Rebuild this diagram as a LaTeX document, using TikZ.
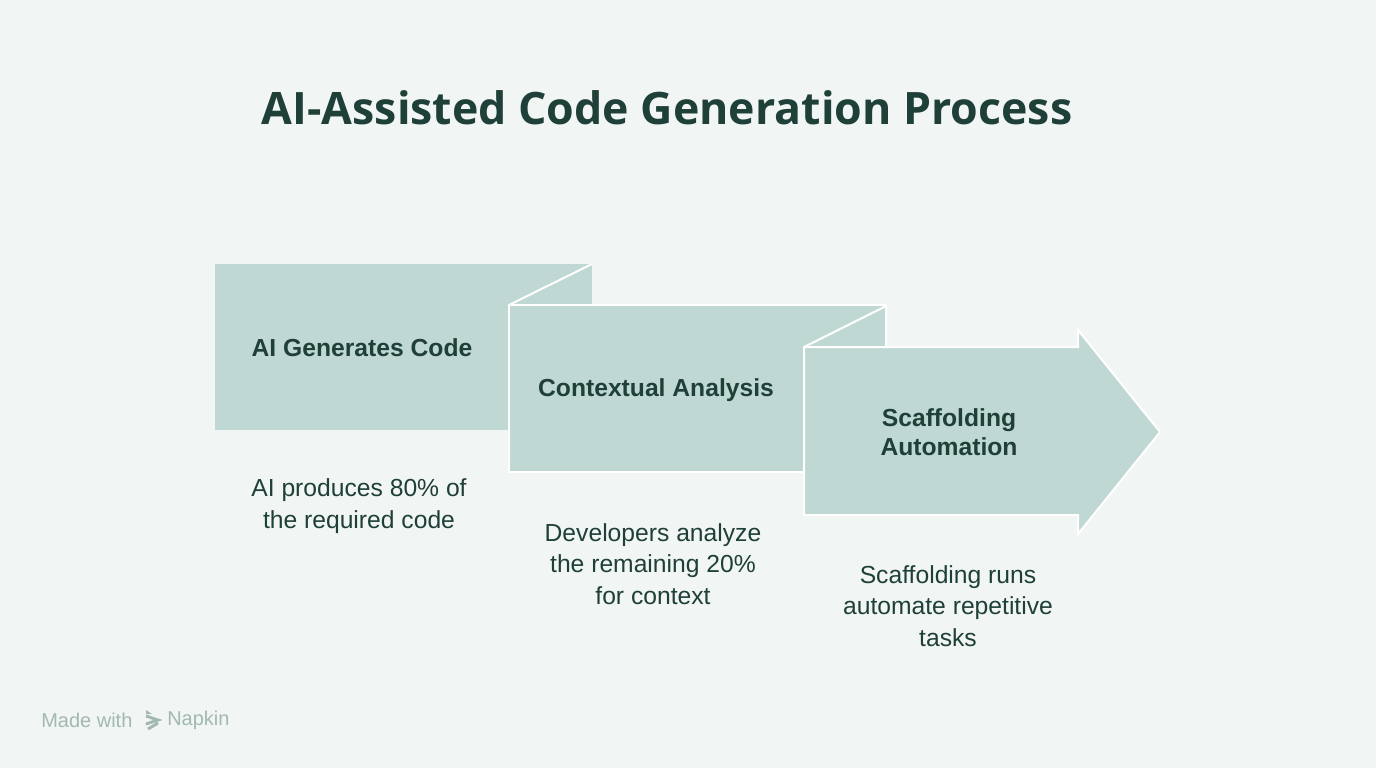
\documentclass[tikz,border=0pt]{standalone}
\usepackage{fontspec}
\setmainfont{Liberation Sans}
\newfontfamily\titlefont{Open Sans}
\begin{document}
\begin{tikzpicture}[x=0.75pt,y=-0.75pt,
  box/.style={fill=boxc,draw=white,line width=1.5pt},
  fold/.style={draw=white,line width=1.5pt},
  lbl/.style={text=txt,font=\fontsize{18.5}{22}\selectfont\bfseries,align=center},
  desc/.style={text=txt,font=\fontsize{18.5}{23.5}\selectfont,align=center}]
\definecolor{bg}{HTML}{F1F6F4}
\definecolor{boxc}{HTML}{C0D8D3}
\definecolor{txt}{HTML}{1F4038}
\definecolor{gr}{HTML}{A3B8B2}
\fill[bg] (0,0) rectangle (1376,768);
\useasboundingbox (0,0) rectangle (1376,768);
\node[text=txt,font=\titlefont\fontsize{33.5}{40}\selectfont\bfseries] (title) at (667,108) {AI-Assisted Code Generation Process};
% box 1
\path[fill=boxc] (215,264) rectangle (592,430);
% box 2
\path[box] (509,305) rectangle (886,472);
\draw[fold] (509,305) -- (592,264);
% box 3 arrow
\path[box] (804,347) -- (1078,347) -- (1078,330) -- (1160,432) -- (1078,534) -- (1078,515) -- (804,515) -- cycle;
\draw[fold] (804,347) -- (886,306);
\node[lbl] (l1) at (362,348) {AI Generates Code};
\node[lbl] (l2) at (656,390) {Contextual Analysis};
\node[lbl] (l3) at (949,432) {Scaffolding\\Automation};
\node[desc] (d1) at (359,506) {AI produces 80\% of\\the required code};
\node[desc] (d2) at (653,564) {Developers analyze\\the remaining 20\%\\for context};
\node[desc] (d3) at (948,606) {Scaffolding runs\\automate repetitive\\tasks};
\node[text=gr,font=\fontsize{15}{18}\selectfont,anchor=west,inner sep=0] (m1) at (41,720) {Made with};
\node[text=gr,font=\fontsize{15}{18}\selectfont,anchor=west,inner sep=0] (m2) at (167,720) {Napkin};
\begin{scope}[gr,line width=2.2pt]
\fill (146,710) -- (152,714) -- (146,714) -- cycle;
\draw (146,716) -- (158,720) -- (146,724);
\draw (148,729) -- (158,723);
\end{scope}
\end{tikzpicture}
\end{document}
